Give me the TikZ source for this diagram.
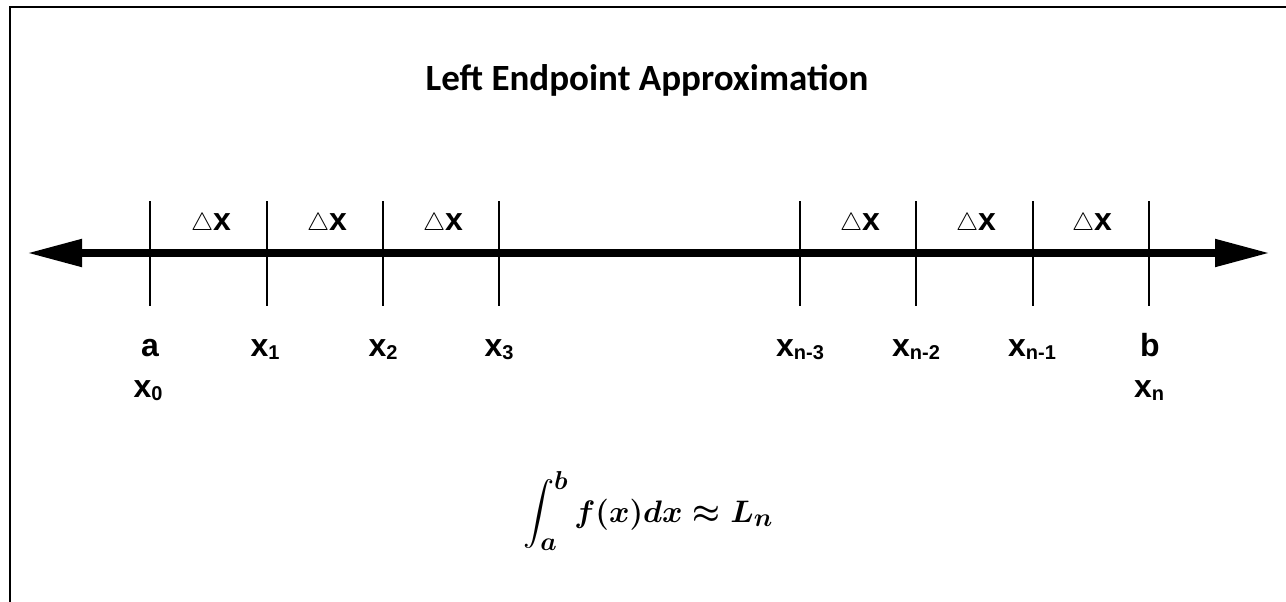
\documentclass[tikz,border=0pt]{standalone}
\usepackage{amsmath}
\usepackage{graphicx}
\usepackage{fontspec}
\setsansfont{Liberation Sans}
\newfontfamily\titlefont{Carlito}
\usetikzlibrary{arrows.meta}
\tikzset{
  frame/.style={line width=2.5pt},
  axisline/.style={line width=8pt,{Triangle[length=55pt,width=26pt]}-{Triangle[length=55pt,width=26pt]}},
  tickline/.style={line width=2pt},
  lbl/.style={inner sep=0pt,anchor=base,font=\fontsize{32}{36}\selectfont\sffamily\bfseries},
  dlbl/.style={inner sep=0pt,anchor=base,font=\fontsize{32}{36}\selectfont\sffamily\bfseries},
  titlelbl/.style={inner sep=0pt,anchor=base,font=\fontsize{37}{42}\selectfont\titlefont\bfseries},
  formula/.style={inner sep=0pt,anchor=base,font=\fontsize{24.88}{30}\selectfont}
}
\newcommand{\sbx}[1]{\raisebox{-3.5pt}{\fontsize{20}{22}\selectfont #1}}
\newcommand{\dx}{{\fontsize{26}{28}\selectfont$\triangle$}x}
\newcommand{\myformula}{\scalebox{1.25}{\boldmath$\displaystyle\int_a^b f(x)dx \approx L_n$}}
\begin{document}
\begin{tikzpicture}[x=1pt,y=-1pt]
\useasboundingbox (0,0) rectangle (1286,602);
\clip (0,0) rectangle (1286,602);
% frame
\coordinate (fbl) at (10,620);
\coordinate (ftl) at (10,7);
\coordinate (ftr) at (1300,7);
\draw[frame] (fbl) -- (ftl) -- (ftr);
% title
\node[titlelbl] (title) at (647,91) {Left Endpoint Approximation};
% axis
\coordinate (L) at (27,253);
\coordinate (R) at (1270,253);
\draw[axisline] (L) -- (R);
% ticks
\foreach \name/\xx in {t0/150,t1/267,t2/383,t3/499,t4/800,t5/916,t6/1033,t7/1149}{
  \coordinate (\name) at (\xx,253);
  \draw[tickline] (\name) ++(0,-52) -- ++(0,105);
}
% delta x labels
\node[dlbl] (d1) at (211,230) {\dx};
\node[dlbl] (d2) at (327,230) {\dx};
\node[dlbl] (d3) at (443,230) {\dx};
\node[dlbl] (d4) at (860,230) {\dx};
\node[dlbl] (d5) at (976,230) {\dx};
\node[dlbl] (d6) at (1092,230) {\dx};
% point labels
\node[lbl] (la) at (150,356) {a};
\node[lbl] (lx1) at (265,356) {x\sbx{1}};
\node[lbl] (lx2) at (383,356) {x\sbx{2}};
\node[lbl] (lx3) at (499,356) {x\sbx{3}};
\node[lbl] (lxn3) at (800,356) {x\sbx{n-3}};
\node[lbl] (lxn2) at (916,356) {x\sbx{n-2}};
\node[lbl] (lxn1) at (1032,356) {x\sbx{n-1}};
\node[lbl] (lb) at (1150,356) {b};
\node[lbl] (lx0) at (148,397) {x\sbx{0}};
\node[lbl] (lxn) at (1149,397) {x\sbx{n}};
% formula
\node[formula] (form) at (648,522) {\myformula};
\end{tikzpicture}
\end{document}
